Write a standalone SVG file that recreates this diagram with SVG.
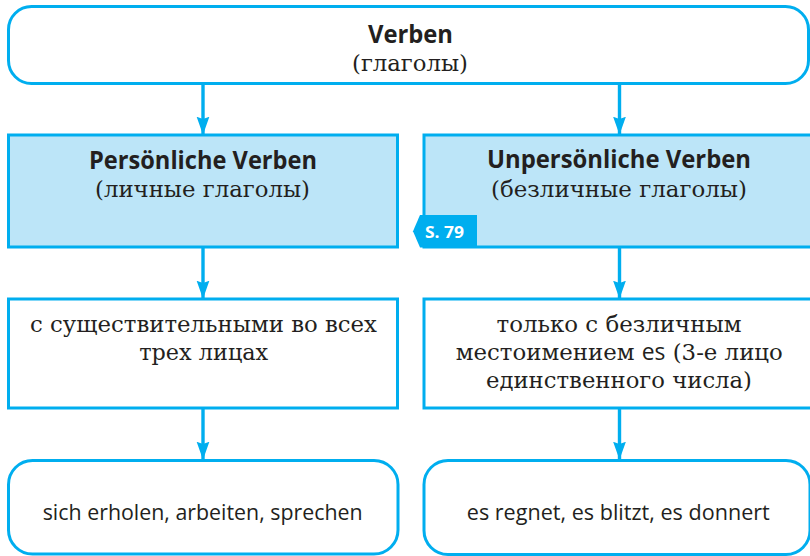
<svg xmlns="http://www.w3.org/2000/svg" width="810" height="556" viewBox="0 0 810 556">
<defs>
<style>
.box{fill:#ffffff;stroke:#00aeef;stroke-width:3}
.hl{fill:#bce5f8;stroke:#00aeef;stroke-width:3}
.b{font-family:"Open Sans","Noto Sans","Liberation Sans",sans-serif;font-weight:700;font-size:25px;fill:#231f20;text-anchor:middle}
.s{font-family:"DejaVu Serif","Liberation Serif",serif;font-size:23px;fill:#231f20;text-anchor:middle}
.r{font-family:"Open Sans","Noto Sans","Liberation Sans",sans-serif;font-size:22px;fill:#231f20;text-anchor:middle}
.es{font-family:"Open Sans","Noto Sans","Liberation Sans",sans-serif}
.line{stroke:#00aeef;stroke-width:3.4;fill:none}
.tag{fill:#00aeef}
.tagt{font-family:"Open Sans","Noto Sans","Liberation Sans",sans-serif;font-weight:700;font-size:16px;fill:#ffffff}
</style>
<marker id="ah" markerUnits="userSpaceOnUse" markerWidth="18" markerHeight="24" refX="23" refY="9" viewBox="0 0 24 18" orient="auto">
<path d="M0,0.5 L24,9 L0,17.5 L3,9 Z" fill="#00aeef"/>
</marker>
</defs>
<rect width="810" height="556" fill="#ffffff"/>
<g id="connectors">
<path class="line" d="M203,83 V134" marker-end="url(#ah)"/>
<path class="line" d="M619.5,83 V134" marker-end="url(#ah)"/>
<path class="line" d="M203,247 V298" marker-end="url(#ah)"/>
<path class="line" d="M619.5,247 V298" marker-end="url(#ah)"/>
<path class="line" d="M203,408 V459" marker-end="url(#ah)"/>
<path class="line" d="M619.5,408 V459" marker-end="url(#ah)"/>
</g>
<g id="verben">
<rect class="box" x="8.5" y="6.5" width="800" height="77" rx="23"/>
<text class="b" x="410.5" y="42.5" textLength="85" lengthAdjust="spacingAndGlyphs">Verben</text>
<text class="s" x="410" y="70.5" textLength="116" lengthAdjust="spacingAndGlyphs">(глаголы)</text>
</g>
<g id="persoenliche">
<rect class="hl" x="8.5" y="135" width="389" height="112"/>
<text class="b" x="203" y="168.8" textLength="228" lengthAdjust="spacingAndGlyphs">Persönliche Verben</text>
<text class="s" x="202.5" y="196.7" textLength="215" lengthAdjust="spacingAndGlyphs">(личные глаголы)</text>
</g>
<g id="unpersoenliche">
<rect class="hl" x="424" y="135" width="400" height="112"/>
<text class="b" x="619" y="168" textLength="264" lengthAdjust="spacingAndGlyphs">Unpersönliche Verben</text>
<text class="s" x="619" y="197" textLength="256" lengthAdjust="spacingAndGlyphs">(безличные глаголы)</text>
</g>
<g id="tag-s79">
<polygon class="tag" points="420,215 477,215 477,247.5 420,247.5 413,231.3"/>
<text class="tagt" x="425" y="237.5" textLength="39" lengthAdjust="spacingAndGlyphs">S. 79</text>
</g>
<g id="mit-substantiven">
<rect class="box" x="8.5" y="299" width="389" height="109"/>
<text class="s" x="203.5" y="331.7" textLength="347" lengthAdjust="spacingAndGlyphs">с существительными во всех</text>
<text class="s" x="203.7" y="360" textLength="129" lengthAdjust="spacingAndGlyphs">трех лицах</text>
</g>
<g id="nur-es">
<rect class="box" x="424" y="299" width="400" height="109"/>
<text class="s" x="619" y="331.7" textLength="245" lengthAdjust="spacingAndGlyphs">только с безличным</text>
<text class="s" x="619.3" y="360" textLength="327" lengthAdjust="spacingAndGlyphs">местоимением <tspan class="es">es</tspan> (3-е лицо</text>
<text class="s" x="619" y="388" textLength="266" lengthAdjust="spacingAndGlyphs">единственного числа)</text>
</g>
<g id="beispiele-persoenlich">
<rect class="box" x="8.5" y="460.5" width="389.5" height="93.5" rx="24"/>
<text class="r" x="202.7" y="520" textLength="320" lengthAdjust="spacingAndGlyphs">sich erholen, arbeiten, sprechen</text>
</g>
<g id="beispiele-unpersoenlich">
<rect class="box" x="424" y="460.5" width="386" height="94" rx="24"/>
<text class="r" x="618.3" y="520" textLength="303" lengthAdjust="spacingAndGlyphs">es regnet, es blitzt, es donnert</text>
</g>
</svg>
